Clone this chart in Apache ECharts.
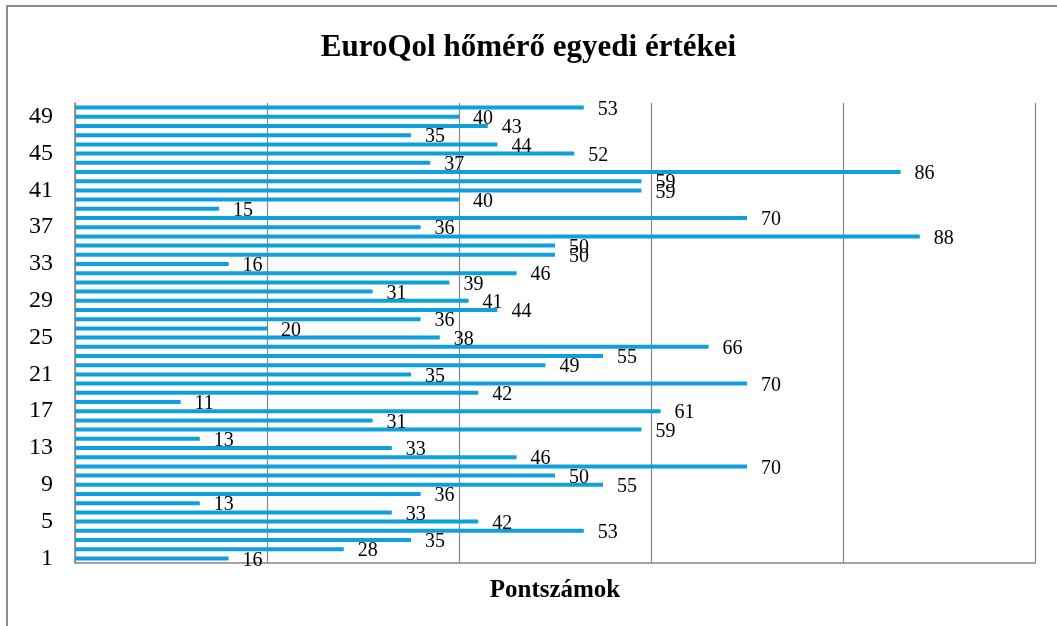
<!DOCTYPE html>
<html>
<head>
<meta charset="utf-8">
<script src="https://cdn.jsdelivr.net/npm/echarts@6/dist/echarts.min.js"></script>
<style>
  html, body { margin: 0; padding: 0; background: #fff; }
  #chart { width: 1057px; height: 626px; }
</style>
</head>
<body>
<div id="chart"></div>
<script>
// válaszadók sorszáma (1..50)
var respondents = [];
for (var i = 1; i <= 50; i++) respondents.push(String(i));

// hőmérő pontszámok, 1-es válaszadótól felfelé
var scores = [16, 28, 35, 53, 42, 33, 13, 36, 55, 50,
              70, 46, 33, 13, 59, 31, 61, 11, 42, 70,
              35, 49, 55, 66, 38, 20, 36, 44, 41, 31,
              39, 46, 16, 50, 50, 88, 36, 70, 15, 40,
              59, 59, 86, 37, 52, 44, 35, 43, 40, 53];

var xTicks = [0, 20, 40, 60, 80, 100];

var serif = '"Liberation Serif", "Times New Roman", serif';

var chart = echarts.init(document.getElementById('chart'));
chart.setOption({
    animation: false,
    title: {
        text: 'EuroQol hőmérő egyedi értékei',
        left: 'center',
        top: 27,
        textStyle: { fontFamily: serif, fontSize: 31, fontWeight: 'bold', color: '#000' }
    },
    // külső keret
    graphic: [{
        type: 'rect',
        shape: { x: 7, y: 6, width: 1100, height: 700 },
        style: { fill: 'none', stroke: '#8c8c8c', lineWidth: 2 },
        silent: true
    }],
    grid: { left: 75, right: 22, top: 103, bottom: 63 },
    xAxis: {
        type: 'value',
        min: xTicks[0],
        max: xTicks[xTicks.length - 1],
        interval: 20,
        name: 'Pontszámok',
        nameLocation: 'middle',
        nameGap: 15,
        nameTextStyle: { fontFamily: serif, fontSize: 25, fontWeight: 'bold', color: '#000' },
        axisLine: { show: true, lineStyle: { color: '#868686', width: 1.5 } },
        axisTick: { show: false },
        axisLabel: { show: false },
        splitLine: { show: true, lineStyle: { color: '#868686', width: 1.2 } }
    },
    yAxis: {
        type: 'category',
        data: respondents,
        axisLine: { show: true, lineStyle: { color: '#868686', width: 1.5 } },
        axisTick: { show: false },
        axisLabel: {
            interval: 3,
            margin: 22,
            fontFamily: serif,
            fontSize: 24,
            color: '#000'
        }
    },
    series: [{
        type: 'bar',
        data: scores,
        barWidth: 4,
        itemStyle: { color: '#0ea0db' },
        label: {
            show: true,
            position: 'right',
            distance: 14,
            offset: [0, 2],
            fontFamily: serif,
            fontSize: 20,
            color: '#000'
        }
    }]
});
</script>
</body>
</html>
